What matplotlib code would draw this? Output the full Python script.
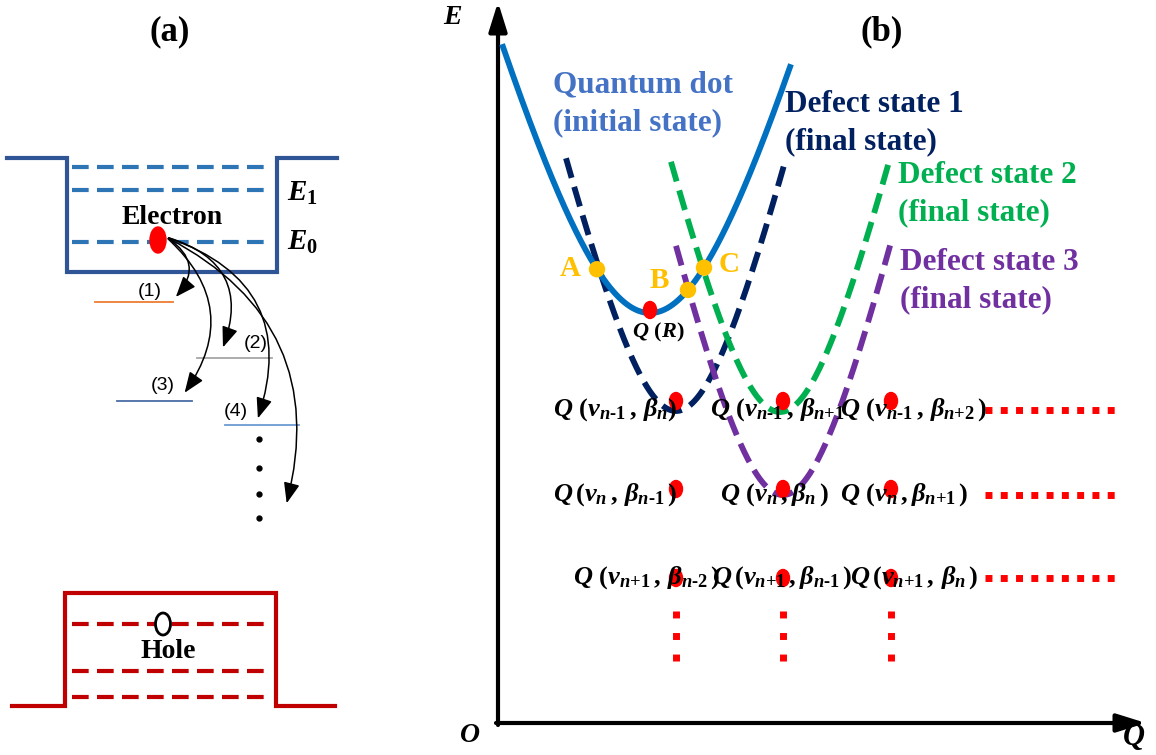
import numpy as np
import matplotlib.pyplot as plt
from matplotlib.patches import Ellipse, FancyArrowPatch

plt.rcParams['mathtext.fontset'] = 'custom'
plt.rcParams['mathtext.rm'] = 'Liberation Serif:bold'
plt.rcParams['mathtext.it'] = 'Liberation Serif:italic:bold'
plt.rcParams['mathtext.bf'] = 'Liberation Serif:bold'
SERIF = 'Liberation Serif'

# ---- panel (a): band diagram (pixel units of the original picture) ----
e_well_x = [7, 67, 67, 277, 277, 337]
e_well_y = [158, 158, 272, 272, 158, 158]
e_level_y = [167, 190, 242]
h_well_x = [12, 65, 65, 276, 276, 335]
h_well_y = [706, 706, 593, 593, 706, 706]
h_level_y = [624, 671, 697]
level_x = [72, 272]

trap_labels = ['(1)', '(2)', '(3)', '(4)']
trap_left = [95, 197, 117, 225]
trap_right = [173, 272, 192, 299]
trap_y = [302, 358, 401, 425]
trap_colors = ['#ED7D31', '#A6A6A6', '#4A6DA7', '#6C9BD2']
trap_label_x = [150, 256, 163, 236]
trap_label_y = [291, 344, 385, 411]

arrow_start = (166, 237)
arrow_end_x = [174, 222, 183, 257, 286]
arrow_end_y = [299, 350, 395, 421, 506]
arrow_rad = [-0.6, -0.54, -0.45, -0.5, -0.4]
more_dots_x = 259
more_dots_y = [439, 468, 494, 518]

# ---- panel (b): configuration coordinate diagram ----
curve_names = ['Quantum dot\n(initial state)', 'Defect state 1\n(final state)',
               'Defect state 2\n(final state)', 'Defect state 3\n(final state)']
curve_colors = ['#0070C0', '#002060', '#00B050', '#7030A0']
label_colors = ['#4472C4', '#002060', '#00B050', '#7030A0']
curve_center = [650, 676, 780, 783]
curve_bottom = [313, 411, 412, 495]
curve_top = [57, 160, 160, 244]
curve_left = [503, 566, 671, 676]
curve_right = [790, 785, 890, 891]
curve_round = [110, 70, 70, 70]
name_x = [643, 785, 898, 900]
name_y = [104, 123, 194, 281]
name_ha = ['center', 'left', 'left', 'left']

cross_names = ['A', 'B', 'C']
cross_x = [597, 688, 704]
cross_label_x = [570, 659, 729]
cross_label_y = [268, 281, 265]

grid_x = [676, 783, 891]
grid_y = [401, 489, 578]
state_labels = [
    [r'$Q\ (v_{n\text{-}1}\,,\,\beta_n)$', r'$Q\ (v_{n\text{-}1}\,,\,\beta_{n{+}1}$',
     r'$Q\ (v_{n\text{-}1}\,,\,\beta_{n{+}2}\,)$'],
    [r'$Q\,(v_n\,,\,\beta_{n\text{-}1}\,)$', r'$Q\ (v_n\,,\beta_n\,)$',
     r'$Q\ (v_n\,,\beta_{n{+}1}\,)$'],
    [r'$Q\ (v_{n{+}1}\,,\,\beta_{n\text{-}2}\,)$', r'$Q\,(v_{n{+}1}\,,\beta_{n\text{-}1}\,)$',
     r'$Q\,(v_{n{+}1}\,,\,\beta_n\,)$'],
]
state_label_x = [[553, 710, 840], [553, 720, 840], [573, 712, 850]]
state_label_y = [410, 495, 578]
row_dots_x = [985, 1117]
col_dots_y = [611, 662]


def well(x, i):
    half = (curve_right[i] - curve_left[i]) / 2
    r = curve_round[i]
    s = (curve_bottom[i] - curve_top[i]) / (np.hypot(half, r) - r)
    return curve_bottom[i] - s * (np.hypot(x - curve_center[i], r) - r)


fig = plt.figure(figsize=(11.56, 7.55), dpi=100)
ax = fig.add_axes([0, 0, 1, 1])
ax.set_xlim(0, 1156)
ax.set_ylim(755, 0)
ax.axis('off')

# ===== panel (a) =====
ax.text(170, 32, '(a)', fontsize=25, fontweight='bold', family=SERIF, ha='center', va='center')

ax.plot(e_well_x, e_well_y, color='#2F5597', lw=3, solid_joinstyle='miter')
for y in e_level_y:
    ax.plot(level_x, [y, y], color='#2E75B6', lw=3, ls=(0, (4, 2)))
ax.text(172, 218, 'Electron', fontsize=20, fontweight='bold', family=SERIF, ha='center', va='center')
ax.text(287, 193, r'$E_1$', fontsize=21, ha='left', va='center')
ax.text(287, 242, r'$E_0$', fontsize=21, ha='left', va='center')

for x0, x1, y, c in zip(trap_left, trap_right, trap_y, trap_colors):
    ax.plot([x0, x1], [y, y], color=c, lw=1.3)
for lab, x, y in zip(trap_labels, trap_label_x, trap_label_y):
    ax.text(x, y, lab, fontsize=14, family='Liberation Sans', ha='center', va='center')

for ex, ey, rad in zip(arrow_end_x, arrow_end_y, arrow_rad):
    ax.add_patch(FancyArrowPatch(arrow_start, (ex, ey), connectionstyle=f'arc3,rad={rad}',
                                 arrowstyle='-|>,head_length=0.9,head_width=0.35',
                                 mutation_scale=14, lw=1.1, color='black', zorder=4))
ax.add_patch(Ellipse((158, 240), 16, 26, color='#FF0000', zorder=5))
ax.plot([more_dots_x] * len(more_dots_y), more_dots_y, 'o', color='black', ms=3.5)

ax.plot(h_well_x, h_well_y, color='#C00000', lw=3, solid_joinstyle='miter')
for y in h_level_y:
    ax.plot(level_x, [y, y], color='#C00000', lw=3, ls=(0, (4, 2)))
ax.add_patch(Ellipse((163, 624), 15, 22, facecolor='white', edgecolor='black', lw=2, zorder=5))
ax.text(168, 652, 'Hole', fontsize=20, fontweight='bold', family=SERIF, ha='center', va='center')

# ===== panel (b) =====
ax.annotate('', xy=(498, 2), xytext=(498, 725),
            arrowprops=dict(arrowstyle='-|>,head_length=0.8,head_width=0.25', lw=3,
                            color='black', mutation_scale=22, shrinkA=0, shrinkB=0))
ax.annotate('', xy=(1146, 723), xytext=(496, 723),
            arrowprops=dict(arrowstyle='-|>,head_length=0.8,head_width=0.25', lw=3,
                            color='black', mutation_scale=22, shrinkA=0, shrinkB=0))
ax.text(452, 18, 'E', fontsize=20, fontweight='bold', style='italic', family=SERIF, ha='center', va='center')
ax.text(470, 735, 'O', fontsize=20, fontweight='bold', style='italic', family=SERIF, ha='center', va='center')
ax.text(1134, 737, 'Q', fontsize=22, fontweight='bold', style='italic', family=SERIF, ha='center', va='center')
ax.text(882, 32, '(b)', fontsize=25, fontweight='bold', family=SERIF, ha='center', va='center')

for i in range(4):
    xs = np.linspace(curve_left[i], curve_right[i], 300)
    ls = '-' if i == 0 else (0, (3.5, 1.6))
    ax.plot(xs, well(xs, i), color=curve_colors[i], lw=4.2, ls=ls, zorder=2 if i else 3)
    ax.text(name_x[i], name_y[i], curve_names[i], fontsize=22.5, fontweight='bold', family=SERIF,
            color=label_colors[i], ha=name_ha[i], va='center', linespacing=1.4,
            multialignment='left')

for name, x, lx, ly in zip(cross_names, cross_x, cross_label_x, cross_label_y):
    ax.add_patch(Ellipse((x, well(x, 0)), 15, 15, color='#FFC000', zorder=5))
    ax.text(lx, ly, name, fontsize=21, fontweight='bold', family=SERIF, color='#FFC000',
            ha='center', va='center')

ax.add_patch(Ellipse((curve_center[0], curve_bottom[0] - 3), 13, 17, color='#FF0000', zorder=5))
ax.text(658, 332, r'$Q\ (R)$', fontsize=16, ha='center', va='center')

for r, y in enumerate(grid_y):
    for c, x in enumerate(grid_x):
        ax.add_patch(Ellipse((x, y), 13, 17, color='#FF0000', zorder=5))
        ax.text(state_label_x[r][c], state_label_y[r], state_labels[r][c], fontsize=19,
                ha='left', va='center', zorder=6)
    ax.plot(row_dots_x, [state_label_y[r]] * 2, color='#FF0000', lw=5, ls=(0, (1, 1.2)),
            solid_capstyle='butt', dash_capstyle='butt')
for x in grid_x:
    ax.plot([x, x], col_dots_y, color='#FF0000', lw=5, ls=(0, (1, 2.1)), dash_capstyle='butt')

fig.savefig('out.png', dpi=100)
